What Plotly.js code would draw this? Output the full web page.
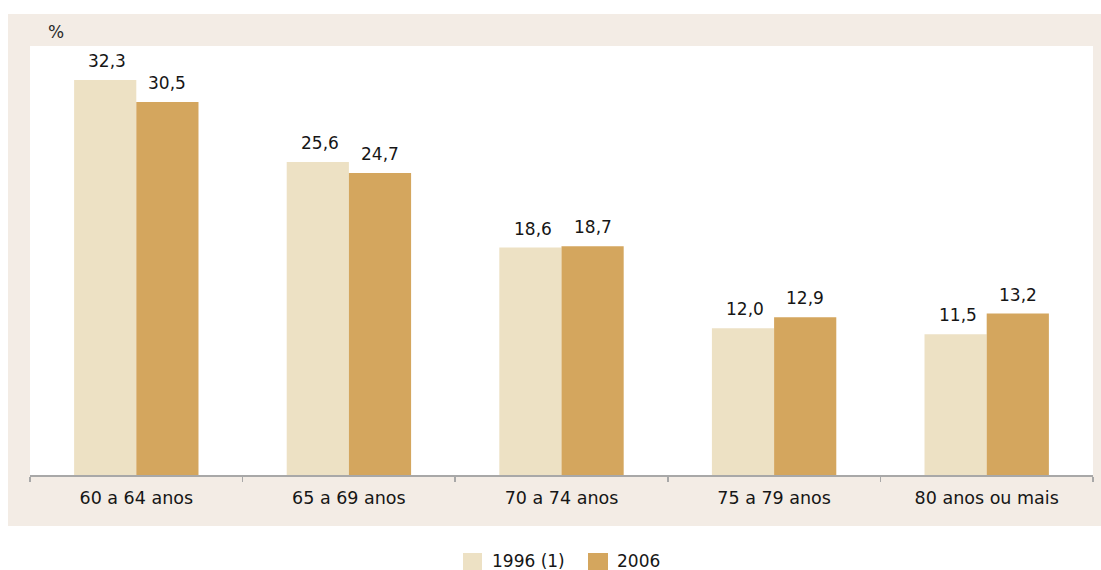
<!DOCTYPE html>
<html>
<head>
<meta charset="utf-8">
<script src="https://cdn.plot.ly/plotly-3.0.1.min.js"></script>
<style>html,body{margin:0;padding:0;background:#fff;}#chart{width:1101px;height:570px;}</style>
</head>
<body>
<div id="chart"></div>
<script>
var categories = ["60 a 64 anos", "65 a 69 anos", "70 a 74 anos", "75 a 79 anos", "80 anos ou mais"];
var seriesNames = ["1996 (1)", "2006"];
var values1996 = [32.3, 25.6, 18.6, 12.0, 11.5];
var values2006 = [30.5, 24.7, 18.7, 12.9, 13.2];
var colors = ["#EDE1C4", "#D4A65E"];

var FONT = "DejaVu Sans, Liberation Sans, Arial, sans-serif";
var TXT = "#161616";

// pixel helpers (plot area: x 30..1093, y 46..475)
function px(x) { return (x - 30) / 1063; }
function py(y) { return (475 - y) / 429; }

var traces = [
  {type: "bar", name: seriesNames[0], x: categories, y: values1996, marker: {color: colors[0]}, hoverinfo: "none", showlegend: false},
  {type: "bar", name: seriesNames[1], x: categories, y: values2006, marker: {color: colors[1]}, hoverinfo: "none", showlegend: false}
];

function fmt(v) { return v.toFixed(1).replace(".", ","); }

var annotations = [];
[values1996, values2006].forEach(function (vals, s) {
  vals.forEach(function (v, i) {
    annotations.push({
      x: categories[i], y: v, xref: "x", yref: "y",
      text: fmt(v), showarrow: false,
      xanchor: "center", yanchor: "bottom",
      xshift: s === 0 ? -29 : 31, yshift: 7,
      font: {family: FONT, size: 17, color: TXT}
    });
  });
});
annotations.push({
  xref: "paper", yref: "paper", x: px(56), y: py(32),
  text: "%", showarrow: false, xanchor: "center", yanchor: "middle",
  font: {family: FONT, size: 17, color: "#2a2a2a"}
});

// custom legend
var legendSquares = [[463, 482], [588, 608]];
var legendTextX = [490, 615];
var shapes = [
  {type: "rect", xref: "paper", yref: "paper", layer: "below",
   x0: px(8), x1: px(1101), y0: py(526), y1: py(14),
   fillcolor: "#F3ECE5", line: {width: 0}},
  {type: "rect", xref: "paper", yref: "paper", layer: "below",
   x0: 0, x1: 1, y0: 0, y1: 1, fillcolor: "#ffffff", line: {width: 0}}
];
seriesNames.forEach(function (name, s) {
  shapes.push({type: "rect", xref: "paper", yref: "paper",
    x0: px(legendSquares[s][0]), x1: px(legendSquares[s][1]), y0: py(570), y1: py(553),
    fillcolor: colors[s], line: {width: 0}});
  annotations.push({xref: "paper", yref: "paper", x: px(legendTextX[s]), y: py(561),
    text: name, showarrow: false, xanchor: "left", yanchor: "middle",
    font: {family: FONT, size: 17, color: TXT}});
});

var layout = {
  width: 1101, height: 570,
  margin: {l: 30, r: 8, t: 46, b: 95, pad: 0},
  paper_bgcolor: "#ffffff",
  plot_bgcolor: "#ffffff",
  barmode: "group",
  bargap: 0.415,
  bargroupgap: 0,
  font: {family: FONT, size: 17, color: TXT},
  showlegend: false,
  xaxis: {
    type: "category",
    showline: true, linecolor: "#A8A8A8", linewidth: 1.5,
    ticks: "outside", tickson: "boundaries", ticklen: 5, tickcolor: "#A8A8A8", tickwidth: 1.5,
    ticklabelstandoff: 6,
    showgrid: false, zeroline: false,
    tickfont: {family: FONT, size: 17.5, color: TXT},
    fixedrange: true
  },
  yaxis: {
    range: [0, 35.08], showticklabels: false, showgrid: false, zeroline: false,
    showline: false, ticks: "", fixedrange: true
  },
  shapes: shapes,
  annotations: annotations
};

Plotly.newPlot("chart", traces, layout, {staticPlot: true, displayModeBar: false});
</script>
</body>
</html>
